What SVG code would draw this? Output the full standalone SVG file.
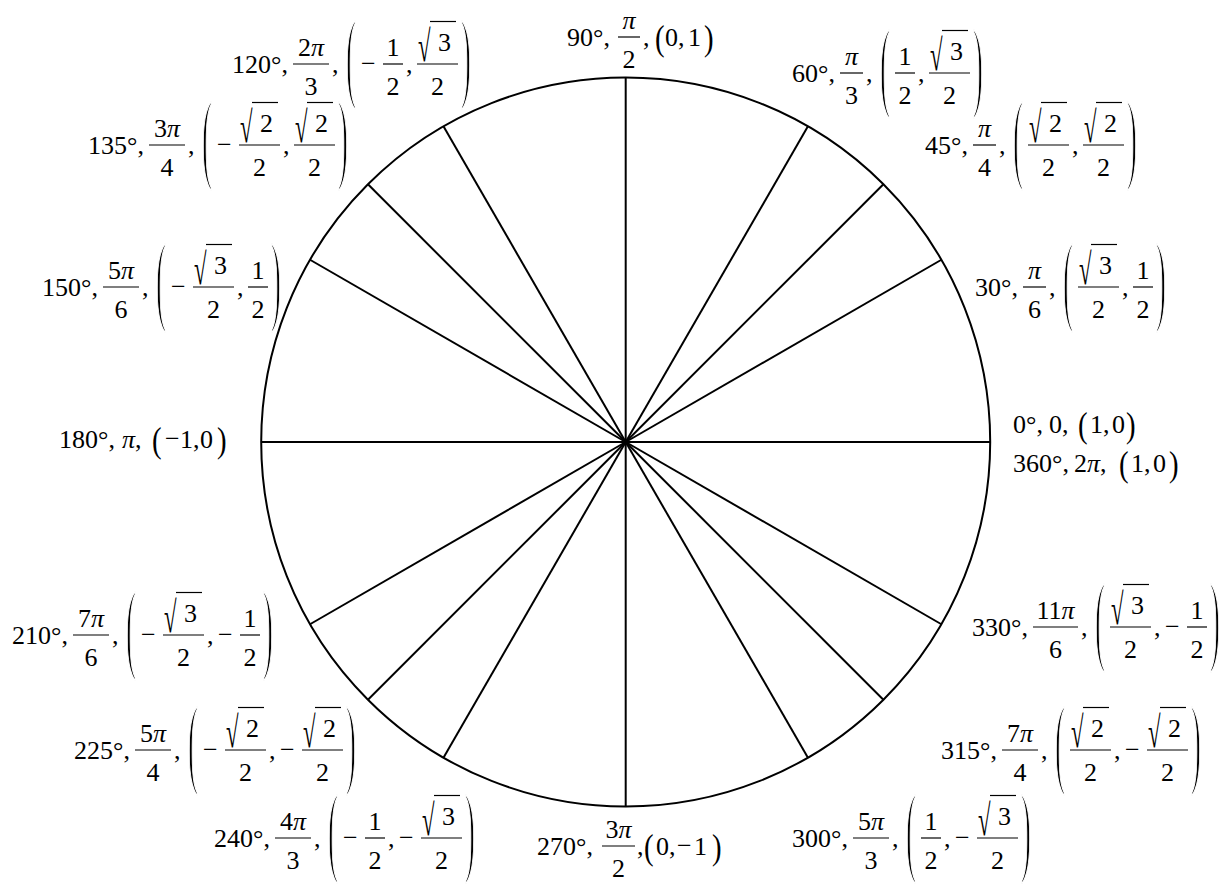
<svg xmlns="http://www.w3.org/2000/svg" width="1228" height="886" viewBox="0 0 1228 886">
<style>
text { font-family: "Liberation Serif", "Times New Roman", serif; font-size: 26px; fill: #000; }
.c { text-anchor: middle; }
.i { font-style: italic; }
.bar, .ov { stroke: #000; stroke-width: 1.2; }
.bp { font-size: 100px; stroke: #fff; stroke-width: 2.5; }
.mp { font-size: 36px; }
.rad { font-size: 44px; }
.sp { stroke: #000; stroke-width: 2; }
</style>
<rect width="1228" height="886" fill="#fff"/>
<g id="circle-and-spokes">
<circle cx="625.7" cy="442" r="364.5" fill="none" stroke="#000" stroke-width="2"/>
<g id="connectors">
<line class="sp" x1="625.7" y1="442" x2="990.2" y2="442"/>
<line class="sp" x1="625.7" y1="442" x2="941.4" y2="259.75"/>
<line class="sp" x1="625.7" y1="442" x2="883.4" y2="184.3"/>
<line class="sp" x1="625.7" y1="442" x2="807.95" y2="126.3"/>
<line class="sp" x1="625.7" y1="442" x2="625.7" y2="77.5"/>
<line class="sp" x1="625.7" y1="442" x2="443.45" y2="126.3"/>
<line class="sp" x1="625.7" y1="442" x2="367.96" y2="184.3"/>
<line class="sp" x1="625.7" y1="442" x2="310" y2="259.75"/>
<line class="sp" x1="625.7" y1="442" x2="261.2" y2="442"/>
<line class="sp" x1="625.7" y1="442" x2="310" y2="624.25"/>
<line class="sp" x1="625.7" y1="442" x2="367.96" y2="699.7"/>
<line class="sp" x1="625.7" y1="442" x2="443.45" y2="757.7"/>
<line class="sp" x1="625.7" y1="442" x2="625.7" y2="806.5"/>
<line class="sp" x1="625.7" y1="442" x2="807.95" y2="757.7"/>
<line class="sp" x1="625.7" y1="442" x2="883.4" y2="699.7"/>
<line class="sp" x1="625.7" y1="442" x2="941.4" y2="624.25"/>
</g>
</g>

<g id="n90" transform="translate(567,37)">
<text x="0" y="9">90°,</text>
<line class="bar" x1="51" y1="0" x2="73" y2="0"/>
<text class="c i" x="62" y="-8">π</text>
<text class="c" x="62" y="31">2</text>
<text x="76" y="9">,</text>
<text class="mp" transform="translate(88,13) scale(0.8,1)">(</text>
<text x="98" y="9">0</text>
<text x="111" y="9">,</text>
<text x="121" y="9">1</text>
<text class="mp" transform="translate(137,13) scale(0.8,1)">)</text>
</g>

<g id="n120" transform="translate(232,64)">
<text x="0" y="9">120°,</text>
<line class="bar" x1="61" y1="0" x2="97" y2="0"/>
<text class="c" x="79" y="-8">2<tspan class="i">π</tspan></text>
<text class="c" x="79" y="31">3</text>
<text x="100" y="9">,</text>
<text class="bp" transform="translate(114,25) scale(0.3,1)">(</text>
<text x="129" y="8">−</text>
<line class="bar" x1="151" y1="0" x2="171" y2="0"/>
<text class="c" x="161" y="-8">1</text>
<text class="c" x="161" y="31">2</text>
<text x="174" y="9">,</text>
<line class="bar" x1="185" y1="0" x2="226" y2="0"/>
<text class="rad" transform="translate(186,-3) scale(0.52,1)">√</text>
<line class="ov" x1="198" y1="-42.5" x2="224" y2="-42.5"/>
<text x="206" y="-13">3</text>
<text class="c" x="205.5" y="31">2</text>
<text class="bp" transform="translate(229,25) scale(0.3,1)">)</text>
</g>

<g id="n60" transform="translate(792,73)">
<text x="0" y="9">60°,</text>
<line class="bar" x1="48" y1="0" x2="71" y2="0"/>
<text class="c i" x="59.5" y="-8">π</text>
<text class="c" x="59.5" y="31">3</text>
<text x="74" y="9">,</text>
<text class="bp" transform="translate(88,25) scale(0.3,1)">(</text>
<line class="bar" x1="103" y1="0" x2="123" y2="0"/>
<text class="c" x="113" y="-8">1</text>
<text class="c" x="113" y="31">2</text>
<text x="126" y="9">,</text>
<line class="bar" x1="137" y1="0" x2="178" y2="0"/>
<text class="rad" transform="translate(138,-3) scale(0.52,1)">√</text>
<line class="ov" x1="150" y1="-42.5" x2="176" y2="-42.5"/>
<text x="158" y="-13">3</text>
<text class="c" x="157.5" y="31">2</text>
<text class="bp" transform="translate(181,25) scale(0.3,1)">)</text>
</g>

<g id="n45" transform="translate(925,145)">
<text x="0" y="9">45°,</text>
<line class="bar" x1="48" y1="0" x2="71" y2="0"/>
<text class="c i" x="59.5" y="-8">π</text>
<text class="c" x="59.5" y="31">4</text>
<text x="74" y="9">,</text>
<text class="bp" transform="translate(88,25) scale(0.3,1)">(</text>
<line class="bar" x1="103" y1="0" x2="144" y2="0"/>
<text class="rad" transform="translate(104,-3) scale(0.52,1)">√</text>
<line class="ov" x1="116" y1="-42.5" x2="142" y2="-42.5"/>
<text x="124" y="-13">2</text>
<text class="c" x="123.5" y="31">2</text>
<text x="147" y="9">,</text>
<line class="bar" x1="158" y1="0" x2="199" y2="0"/>
<text class="rad" transform="translate(159,-3) scale(0.52,1)">√</text>
<line class="ov" x1="171" y1="-42.5" x2="197" y2="-42.5"/>
<text x="179" y="-13">2</text>
<text class="c" x="178.5" y="31">2</text>
<text class="bp" transform="translate(202,25) scale(0.3,1)">)</text>
</g>

<g id="n30" transform="translate(975,287)">
<text x="0" y="9">30°,</text>
<line class="bar" x1="48" y1="0" x2="71" y2="0"/>
<text class="c i" x="59.5" y="-8">π</text>
<text class="c" x="59.5" y="31">6</text>
<text x="74" y="9">,</text>
<text class="bp" transform="translate(88,25) scale(0.3,1)">(</text>
<line class="bar" x1="103" y1="0" x2="144" y2="0"/>
<text class="rad" transform="translate(104,-3) scale(0.52,1)">√</text>
<line class="ov" x1="116" y1="-42.5" x2="142" y2="-42.5"/>
<text x="124" y="-13">3</text>
<text class="c" x="123.5" y="31">2</text>
<text x="147" y="9">,</text>
<line class="bar" x1="158" y1="0" x2="178" y2="0"/>
<text class="c" x="168" y="-8">1</text>
<text class="c" x="168" y="31">2</text>
<text class="bp" transform="translate(181,25) scale(0.3,1)">)</text>
</g>

<g id="n0" transform="translate(1013,433)">
<text x="0" y="0">0°,</text>
<text x="36" y="0">0,</text>
<text class="mp" transform="translate(65,4) scale(0.8,1)">(</text>
<text x="77" y="0">1</text>
<text x="90" y="0">,</text>
<text x="99" y="0">0</text>
<text class="mp" transform="translate(113,4) scale(0.8,1)">)</text>
</g>

<g id="n360" transform="translate(1013,472)">
<text x="0" y="0">360°,</text>
<text x="61" y="0">2<tspan class="i">π</tspan>,</text>
<text class="mp" transform="translate(106,4) scale(0.8,1)">(</text>
<text x="118" y="0">1</text>
<text x="131" y="0">,</text>
<text x="140" y="0">0</text>
<text class="mp" transform="translate(156,4) scale(0.8,1)">)</text>
</g>

<g id="n330" transform="translate(972,627)">
<text x="0" y="9">330°,</text>
<line class="bar" x1="61" y1="0" x2="106" y2="0"/>
<text class="c" x="83.5" y="-8">11<tspan class="i">π</tspan></text>
<text class="c" x="83.5" y="31">6</text>
<text x="109" y="9">,</text>
<text class="bp" transform="translate(123,25) scale(0.3,1)">(</text>
<line class="bar" x1="138" y1="0" x2="179" y2="0"/>
<text class="rad" transform="translate(139,-3) scale(0.52,1)">√</text>
<line class="ov" x1="151" y1="-42.5" x2="177" y2="-42.5"/>
<text x="159" y="-13">3</text>
<text class="c" x="158.5" y="31">2</text>
<text x="182" y="9">,</text>
<text x="193" y="8">−</text>
<line class="bar" x1="215" y1="0" x2="235" y2="0"/>
<text class="c" x="225" y="-8">1</text>
<text class="c" x="225" y="31">2</text>
<text class="bp" transform="translate(238,25) scale(0.3,1)">)</text>
</g>

<g id="n315" transform="translate(941,750)">
<text x="0" y="9">315°,</text>
<line class="bar" x1="61" y1="0" x2="97" y2="0"/>
<text class="c" x="79" y="-8">7<tspan class="i">π</tspan></text>
<text class="c" x="79" y="31">4</text>
<text x="100" y="9">,</text>
<text class="bp" transform="translate(114,25) scale(0.3,1)">(</text>
<line class="bar" x1="129" y1="0" x2="170" y2="0"/>
<text class="rad" transform="translate(130,-3) scale(0.52,1)">√</text>
<line class="ov" x1="142" y1="-42.5" x2="168" y2="-42.5"/>
<text x="150" y="-13">2</text>
<text class="c" x="149.5" y="31">2</text>
<text x="173" y="9">,</text>
<text x="184" y="8">−</text>
<line class="bar" x1="206" y1="0" x2="247" y2="0"/>
<text class="rad" transform="translate(207,-3) scale(0.52,1)">√</text>
<line class="ov" x1="219" y1="-42.5" x2="245" y2="-42.5"/>
<text x="227" y="-13">2</text>
<text class="c" x="226.5" y="31">2</text>
<text class="bp" transform="translate(250,25) scale(0.3,1)">)</text>
</g>

<g id="n300" transform="translate(792,838)">
<text x="0" y="9">300°,</text>
<line class="bar" x1="61" y1="0" x2="97" y2="0"/>
<text class="c" x="79" y="-8">5<tspan class="i">π</tspan></text>
<text class="c" x="79" y="31">3</text>
<text x="100" y="9">,</text>
<text class="bp" transform="translate(114,25) scale(0.3,1)">(</text>
<line class="bar" x1="129" y1="0" x2="149" y2="0"/>
<text class="c" x="139" y="-8">1</text>
<text class="c" x="139" y="31">2</text>
<text x="152" y="9">,</text>
<text x="163" y="8">−</text>
<line class="bar" x1="185" y1="0" x2="226" y2="0"/>
<text class="rad" transform="translate(186,-3) scale(0.52,1)">√</text>
<line class="ov" x1="198" y1="-42.5" x2="224" y2="-42.5"/>
<text x="206" y="-13">3</text>
<text class="c" x="205.5" y="31">2</text>
<text class="bp" transform="translate(229,25) scale(0.3,1)">)</text>
</g>

<g id="n270" transform="translate(537,846)">
<text x="0" y="9">270°,</text>
<line class="bar" x1="65" y1="0" x2="98" y2="0"/>
<text class="c" x="81.5" y="-8">3<tspan class="i">π</tspan></text>
<text class="c" x="81.5" y="31">2</text>
<text x="100" y="9">,</text>
<text class="mp" transform="translate(107,13) scale(0.8,1)">(</text>
<text x="119" y="9">0</text>
<text x="132" y="9">,</text>
<text x="140" y="8">−</text>
<text x="157" y="9">1</text>
<text class="mp" transform="translate(175,13) scale(0.8,1)">)</text>
</g>

<g id="n240" transform="translate(214,838)">
<text x="0" y="9">240°,</text>
<line class="bar" x1="61" y1="0" x2="97" y2="0"/>
<text class="c" x="79" y="-8">4<tspan class="i">π</tspan></text>
<text class="c" x="79" y="31">3</text>
<text x="100" y="9">,</text>
<text class="bp" transform="translate(114,25) scale(0.3,1)">(</text>
<text x="129" y="8">−</text>
<line class="bar" x1="151" y1="0" x2="171" y2="0"/>
<text class="c" x="161" y="-8">1</text>
<text class="c" x="161" y="31">2</text>
<text x="174" y="9">,</text>
<text x="185" y="8">−</text>
<line class="bar" x1="207" y1="0" x2="248" y2="0"/>
<text class="rad" transform="translate(208,-3) scale(0.52,1)">√</text>
<line class="ov" x1="220" y1="-42.5" x2="246" y2="-42.5"/>
<text x="228" y="-13">3</text>
<text class="c" x="227.5" y="31">2</text>
<text class="bp" transform="translate(251,25) scale(0.3,1)">)</text>
</g>

<g id="n225" transform="translate(74,750)">
<text x="0" y="9">225°,</text>
<line class="bar" x1="61" y1="0" x2="97" y2="0"/>
<text class="c" x="79" y="-8">5<tspan class="i">π</tspan></text>
<text class="c" x="79" y="31">4</text>
<text x="100" y="9">,</text>
<text class="bp" transform="translate(114,25) scale(0.3,1)">(</text>
<text x="129" y="8">−</text>
<line class="bar" x1="151" y1="0" x2="192" y2="0"/>
<text class="rad" transform="translate(152,-3) scale(0.52,1)">√</text>
<line class="ov" x1="164" y1="-42.5" x2="190" y2="-42.5"/>
<text x="172" y="-13">2</text>
<text class="c" x="171.5" y="31">2</text>
<text x="195" y="9">,</text>
<text x="206" y="8">−</text>
<line class="bar" x1="228" y1="0" x2="269" y2="0"/>
<text class="rad" transform="translate(229,-3) scale(0.52,1)">√</text>
<line class="ov" x1="241" y1="-42.5" x2="267" y2="-42.5"/>
<text x="249" y="-13">2</text>
<text class="c" x="248.5" y="31">2</text>
<text class="bp" transform="translate(272,25) scale(0.3,1)">)</text>
</g>

<g id="n210" transform="translate(12,635)">
<text x="0" y="9">210°,</text>
<line class="bar" x1="61" y1="0" x2="97" y2="0"/>
<text class="c" x="79" y="-8">7<tspan class="i">π</tspan></text>
<text class="c" x="79" y="31">6</text>
<text x="100" y="9">,</text>
<text class="bp" transform="translate(114,25) scale(0.3,1)">(</text>
<text x="129" y="8">−</text>
<line class="bar" x1="151" y1="0" x2="192" y2="0"/>
<text class="rad" transform="translate(152,-3) scale(0.52,1)">√</text>
<line class="ov" x1="164" y1="-42.5" x2="190" y2="-42.5"/>
<text x="172" y="-13">3</text>
<text class="c" x="171.5" y="31">2</text>
<text x="195" y="9">,</text>
<text x="206" y="8">−</text>
<line class="bar" x1="228" y1="0" x2="248" y2="0"/>
<text class="c" x="238" y="-8">1</text>
<text class="c" x="238" y="31">2</text>
<text class="bp" transform="translate(251,25) scale(0.3,1)">)</text>
</g>

<g id="n180" transform="translate(59,448)">
<text x="0" y="0">180°,</text>
<text x="63" y="0"><tspan class="i">π</tspan>,</text>
<text class="mp" transform="translate(93,4) scale(0.8,1)">(</text>
<text x="106" y="-1">−</text>
<text x="121" y="0">1</text>
<text x="134" y="0">,</text>
<text x="141" y="0">0</text>
<text class="mp" transform="translate(158,4) scale(0.8,1)">)</text>
</g>

<g id="n150" transform="translate(42,287)">
<text x="0" y="9">150°,</text>
<line class="bar" x1="61" y1="0" x2="97" y2="0"/>
<text class="c" x="79" y="-8">5<tspan class="i">π</tspan></text>
<text class="c" x="79" y="31">6</text>
<text x="100" y="9">,</text>
<text class="bp" transform="translate(114,25) scale(0.3,1)">(</text>
<text x="129" y="8">−</text>
<line class="bar" x1="151" y1="0" x2="192" y2="0"/>
<text class="rad" transform="translate(152,-3) scale(0.52,1)">√</text>
<line class="ov" x1="164" y1="-42.5" x2="190" y2="-42.5"/>
<text x="172" y="-13">3</text>
<text class="c" x="171.5" y="31">2</text>
<text x="195" y="9">,</text>
<line class="bar" x1="206" y1="0" x2="226" y2="0"/>
<text class="c" x="216" y="-8">1</text>
<text class="c" x="216" y="31">2</text>
<text class="bp" transform="translate(229,25) scale(0.3,1)">)</text>
</g>

<g id="n135" transform="translate(88,145)">
<text x="0" y="9">135°,</text>
<line class="bar" x1="61" y1="0" x2="97" y2="0"/>
<text class="c" x="79" y="-8">3<tspan class="i">π</tspan></text>
<text class="c" x="79" y="31">4</text>
<text x="100" y="9">,</text>
<text class="bp" transform="translate(114,25) scale(0.3,1)">(</text>
<text x="129" y="8">−</text>
<line class="bar" x1="151" y1="0" x2="192" y2="0"/>
<text class="rad" transform="translate(152,-3) scale(0.52,1)">√</text>
<line class="ov" x1="164" y1="-42.5" x2="190" y2="-42.5"/>
<text x="172" y="-13">2</text>
<text class="c" x="171.5" y="31">2</text>
<text x="195" y="9">,</text>
<line class="bar" x1="206" y1="0" x2="247" y2="0"/>
<text class="rad" transform="translate(207,-3) scale(0.52,1)">√</text>
<line class="ov" x1="219" y1="-42.5" x2="245" y2="-42.5"/>
<text x="227" y="-13">2</text>
<text class="c" x="226.5" y="31">2</text>
<text class="bp" transform="translate(250,25) scale(0.3,1)">)</text>
</g>
</svg>
